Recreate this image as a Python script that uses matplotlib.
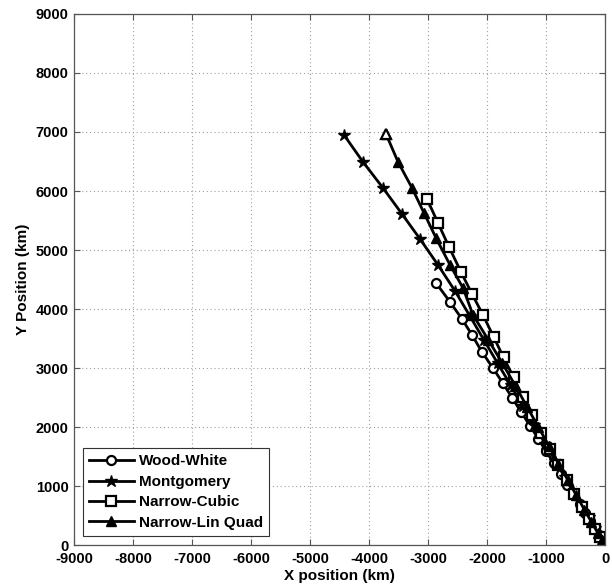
import matplotlib
matplotlib.use("Agg")
import matplotlib.pyplot as plt

# Trajectory positions in km, listed from the launch point outward
ww_x = [0, -12, -50, -105, -175, -250, -335, -430, -530, -640, -750, -870, -1000,
        -1130, -1270, -1420, -1570, -1730, -1900, -2085, -2254, -2424, -2627, -2864]
ww_y = [0, 20, 80, 170, 280, 400, 540, 690, 850, 1020, 1200, 1390, 1590,
        1800, 2020, 2250, 2490, 2740, 3000, 3271, 3559, 3830, 4119, 4441]

mont_x = [0, -24, -83, -172, -278, -400, -540, -685, -845, -1015, -1200, -1395, -1600,
          -1820, -2050, -2290, -2542, -2831, -3136, -3441, -3763, -4102, -4424]
mont_y = [0, 40, 140, 290, 470, 680, 910, 1160, 1430, 1720, 2030, 2360, 2710,
          3080, 3470, 3880, 4305, 4746, 5187, 5610, 6051, 6492, 6949]

cub_x = [0, -25, -80, -165, -270, -390, -520, -650, -790, -930, -1080, -1230, -1390,
         -1550, -1720, -1890, -2068, -2254, -2441, -2644, -2831, -3017]
cub_y = [0, 40, 130, 270, 440, 640, 860, 1100, 1350, 1620, 1900, 2200, 2510,
         2840, 3180, 3530, 3898, 4254, 4627, 5051, 5458, 5864]

lq_x = [0, -48, -125, -230, -350, -485, -630, -790, -950, -1130, -1320, -1520, -1740,
        -1980, -2237, -2407, -2627, -2864, -3068, -3271, -3508, -3712]
lq_y = [0, 80, 210, 390, 600, 840, 1100, 1380, 1680, 2000, 2340, 2700, 3080,
        3480, 3898, 4356, 4746, 5203, 5627, 6051, 6492, 6966]

x_ticks = list(range(-9000, 1, 1000))
y_ticks = list(range(0, 9001, 1000))

plt.rcParams['font.family'] = ['Liberation Sans', 'DejaVu Sans']
plt.rcParams['font.weight'] = 'bold'
plt.rcParams['axes.unicode_minus'] = False

fig = plt.figure(figsize=(6.12, 5.88), dpi=100)
ax = fig.add_axes([0.121, 0.0731, 0.8676, 0.9031])

lw = 2.0
ax.plot(ww_x, ww_y, '-o', color='black', lw=lw, ms=6.5, mfc='white', mew=1.6,
        label='Wood-White')
ax.plot(mont_x, mont_y, '-*', color='black', lw=lw, ms=9, mfc='black',
        label='Montgomery')
ax.plot(cub_x, cub_y, '-s', color='black', lw=lw, ms=6.5, mfc='white', mew=1.6,
        label='Narrow-Cubic')
ax.plot(lq_x, lq_y, '-^', color='black', lw=lw, ms=7.5, mfc='black',
        label='Narrow-Lin Quad')
# last sample of the lin-quad track drawn hollow
ax.plot(lq_x[-1:], lq_y[-1:], '^', color='black', ms=7.5, mfc='white', mew=1.6)

ax.set_xlim(-9000, 0)
ax.set_ylim(0, 9000)
ax.set_xticks(x_ticks)
ax.set_yticks(y_ticks)
ax.tick_params(direction='in', length=4, width=0.8, top=True, right=True,
               labelsize=10.5, color='#555555')
ax.tick_params(axis='x', pad=5)
ax.tick_params(axis='y', pad=4)
for lab in ax.get_xticklabels() + ax.get_yticklabels():
    lab.set_fontweight('bold')
ax.grid(True, linestyle=(0, (1, 2.5)), color='#a0a0a0', linewidth=0.8)
for sp in ax.spines.values():
    sp.set_color('#555555')
    sp.set_linewidth(0.9)

ax.set_xlabel('X position (km)', fontsize=11, fontweight='bold', labelpad=2)
ax.set_ylabel('Y Position (km)', fontsize=11, fontweight='bold', labelpad=4)

leg = ax.legend(loc='lower left', bbox_to_anchor=(0.0, 0.0), fontsize=11,
                frameon=True, fancybox=False, framealpha=1, edgecolor='#333333',
                handlelength=2.9, borderpad=0.4, labelspacing=0.42, handletextpad=0.35,
                borderaxespad=0.6)
leg.get_frame().set_linewidth(0.8)
for t in leg.get_texts():
    t.set_fontweight('bold')

fig.savefig('out.png', dpi=100)
